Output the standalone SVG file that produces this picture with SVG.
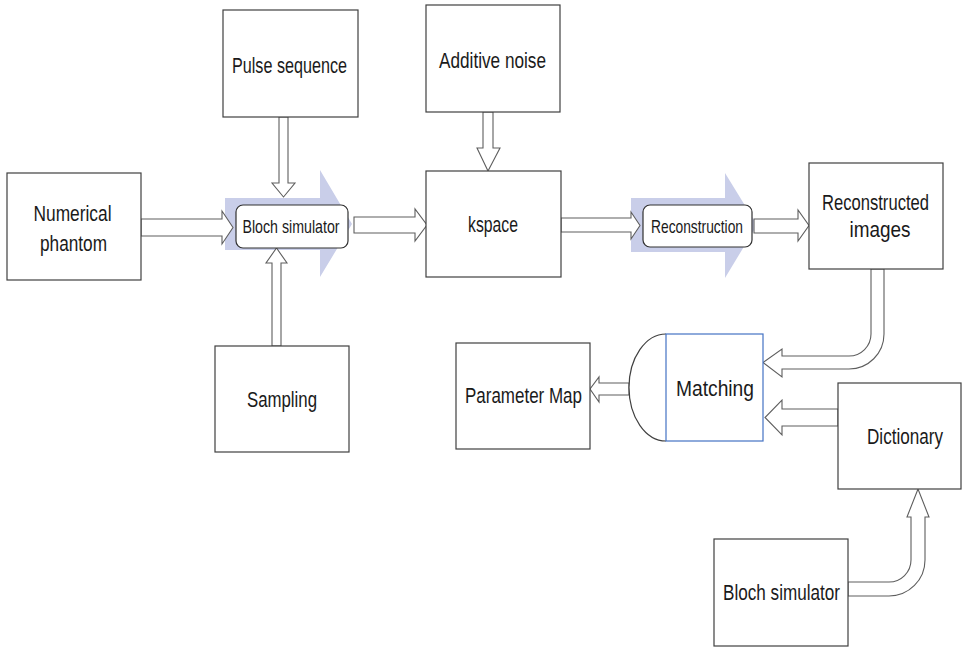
<svg xmlns="http://www.w3.org/2000/svg" width="963" height="648" viewBox="0 0 963 648">
  <style>
    .box { fill: #ffffff; stroke: #404040; stroke-width: 1.2; }
    .rbox { fill: #ffffff; stroke: #303030; stroke-width: 1.2; }
    .flow { fill: #c9cee9; stroke: none; }
    .arrow { fill: #ffffff; stroke: #5e5e5e; stroke-width: 1.1; stroke-linejoin: miter; }
    .lbl { font-family: "Liberation Sans", Arial, sans-serif; font-size: 22px; fill: #1a1a1a; text-anchor: middle; }
    .sm { font-size: 19px; }
  </style>

  <!-- white page -->
  <rect x="0" y="0" width="963" height="648" fill="#ffffff"/>

  <!-- wide process arrows behind the two processing steps -->
  <g id="flow-bands">
    <polygon class="flow" points="225,198 320,198 320,170 352,224 320,277 320,250 225,250"/>
    <polygon class="flow" points="631,198 725,198 725,173 757,225 725,278 725,252 631,252"/>
  </g>

  <!-- block connectors -->
  <g id="connectors">
    <!-- phantom to Bloch simulator -->
    <polygon class="arrow" points="141,219 222,219 222,211 233,227.5 222,244 222,236 141,236"/>
    <!-- pulse sequence down -->
    <polygon class="arrow" points="279,117 288,117 288,183 295,183 283.5,197 272,183 279,183"/>
    <!-- sampling up -->
    <polygon class="arrow" points="272,346 281,346 281,263 287,263 276.5,248 266,263 272,263"/>
    <!-- Bloch simulator to kspace -->
    <polygon class="arrow" points="354,217 415,217 415,209 427,225 415,241 415,233 354,233"/>
    <!-- additive noise down -->
    <polygon class="arrow" points="483,112 493,112 493,148 500,148 488,171 477,148 483,148"/>
    <!-- kspace to reconstruction -->
    <polygon class="arrow" points="561,218 631,218 631,212 640,225.5 631,239 631,232 561,232"/>
    <!-- reconstruction to reconstructed images -->
    <polygon class="arrow" points="754,219 798,219 798,210 809,225.5 798,241 798,233 754,233"/>
    <!-- reconstructed images to matching (bent) -->
    <path class="arrow" d="M871,269 L871,334 A22,22 0 0 1 849,356 L782,356 L782,349 L763,362.5 L782,377 L782,369 L849,369 A35,35 0 0 0 884,334 L884,269 Z"/>
    <!-- dictionary to matching -->
    <polygon class="arrow" points="838,409 782,409 782,400 765,417.5 782,435 782,426 838,426"/>
    <!-- matching to parameter map -->
    <polygon class="arrow" points="629,383 599,383 599,377 590,389 599,402 599,395 629,395"/>
    <!-- Bloch simulator to dictionary (bent) -->
    <path class="arrow" d="M848,582 L889,582 A22,22 0 0 0 911,560 L911,517 L907,517 L918,489 L929,517 L925,517 L925,560 A36,36 0 0 1 889,596 L848,596 Z"/>
  </g>

  <g id="numerical-phantom">
    <rect class="box" x="7" y="173" width="134" height="107"/>
    <text class="lbl" x="72.5" y="221" textLength="78" lengthAdjust="spacingAndGlyphs">Numerical</text>
    <text class="lbl" x="73.5" y="251" textLength="67" lengthAdjust="spacingAndGlyphs">phantom</text>
  </g>

  <g id="pulse-sequence">
    <rect class="box" x="223" y="10" width="135" height="107"/>
    <text class="lbl" x="289.5" y="73" textLength="115" lengthAdjust="spacingAndGlyphs">Pulse sequence</text>
  </g>

  <g id="bloch-simulator">
    <rect class="rbox" x="236" y="205" width="112" height="43" rx="7"/>
    <text class="lbl sm" x="291" y="233" textLength="97" lengthAdjust="spacingAndGlyphs">Bloch simulator</text>
  </g>

  <g id="sampling">
    <rect class="box" x="215" y="346" width="134" height="106"/>
    <text class="lbl" x="282" y="407" textLength="70" lengthAdjust="spacingAndGlyphs">Sampling</text>
  </g>

  <g id="additive-noise">
    <rect class="box" x="426" y="5" width="134" height="107"/>
    <text class="lbl" x="492.5" y="68" textLength="107" lengthAdjust="spacingAndGlyphs">Additive noise</text>
  </g>

  <g id="kspace">
    <rect class="box" x="426" y="171" width="135" height="106"/>
    <text class="lbl" x="493" y="232" textLength="50" lengthAdjust="spacingAndGlyphs">kspace</text>
  </g>

  <g id="reconstruction">
    <rect class="rbox" x="643" y="205" width="109" height="42" rx="7"/>
    <text class="lbl sm" x="697" y="233" textLength="92" lengthAdjust="spacingAndGlyphs">Reconstruction</text>
  </g>

  <g id="reconstructed-images">
    <rect class="box" x="809" y="163" width="134" height="106"/>
    <text class="lbl" x="875.5" y="210" textLength="107" lengthAdjust="spacingAndGlyphs">Reconstructed</text>
    <text class="lbl" x="880" y="237" textLength="61" lengthAdjust="spacingAndGlyphs">images</text>
  </g>

  <g id="matching">
    <path d="M666,334 A37,53.5 0 0 0 666,441" fill="#ffffff" stroke="#404040" stroke-width="1.2"/>
    <rect x="666" y="334" width="97" height="107" fill="#ffffff" stroke="#4472c4" stroke-width="1.2"/>
    <text class="lbl" x="715" y="396" textLength="78" lengthAdjust="spacingAndGlyphs">Matching</text>
  </g>

  <g id="parameter-map">
    <rect class="box" x="456" y="343" width="134" height="106"/>
    <text class="lbl" x="523.5" y="403" textLength="117" lengthAdjust="spacingAndGlyphs">Parameter Map</text>
  </g>

  <g id="dictionary">
    <rect class="box" x="838" y="383" width="123" height="106"/>
    <text class="lbl" x="905" y="444" textLength="76" lengthAdjust="spacingAndGlyphs">Dictionary</text>
  </g>

  <g id="bloch-simulator-dictionary">
    <rect class="box" x="714" y="539" width="134" height="107"/>
    <text class="lbl" x="781.5" y="600" textLength="117" lengthAdjust="spacingAndGlyphs">Bloch simulator</text>
  </g>
</svg>
